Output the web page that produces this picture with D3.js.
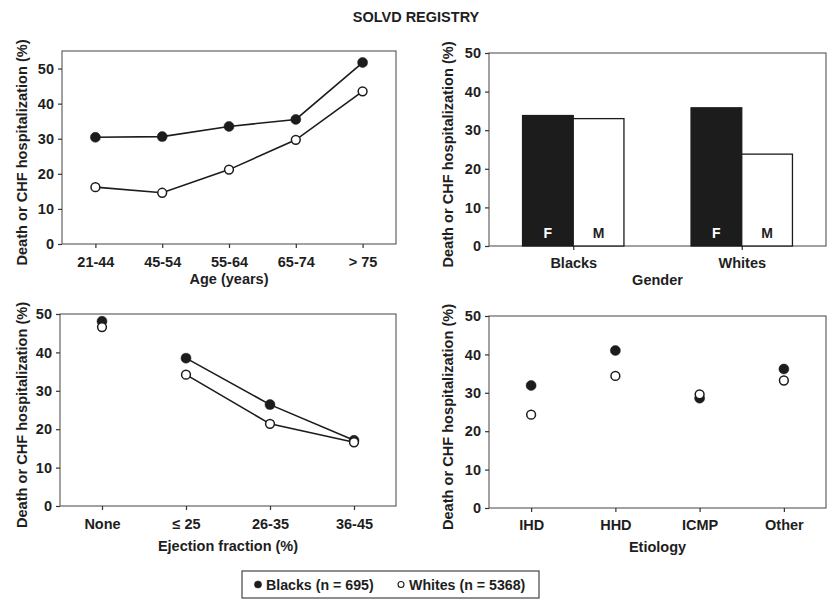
<!DOCTYPE html>
<html>
<head>
<meta charset="utf-8">
<script src="https://cdn.jsdelivr.net/npm/d3@7"></script>
<style>
  body { margin: 0; background: #fff; }
  svg text { font-family: "Liberation Sans", Arial, sans-serif; font-weight: bold; fill: #1e1e1e; }
  .axis path, .axis line { stroke: #333; stroke-width: 1.2; }
  .axis text { font-size: 14.5px; }
</style>
</head>
<body>
<div id="chart"></div>
<script>
// data
const yTicks = [0, 10, 20, 30, 40, 50];

const ageCats = ["21-44", "45-54", "55-64", "65-74", "> 75"];
const ageBlacks = [30.4, 30.6, 33.5, 35.5, 51.7];
const ageWhites = [16.2, 14.6, 21.2, 29.7, 43.5];

const genderGroups = ["Blacks", "Whites"];
const genderSex = ["F", "M"];
const genderF = [33.8, 35.8];
const genderM = [33.0, 23.8];

const efCats = ["None", "\u2264 25", "26-35", "36-45"];
const efBlacks = [48.1, 38.5, 26.4, 17.1];
const efWhites = [46.6, 34.2, 21.4, 16.6];

const etiCats = ["IHD", "HHD", "ICMP", "Other"];
const etiBlacks = [31.9, 41.0, 28.6, 36.2];
const etiWhites = [24.3, 34.4, 29.6, 33.2];

const yLabel = "Death or CHF hospitalization (%)";
const ink = "#1c1c1c";

const svg = d3.select("#chart").append("svg")
    .attr("width", 832)
    .attr("height", 600);

svg.append("text")
    .attr("x", 416)
    .attr("y", 22)
    .attr("text-anchor", "middle")
    .style("font-size", "14.5px")
    .text("SOLVD REGISTRY");

// one panel frame + axes, returns scales
function panel(box, cats, yMax, xTitle, tickOff, titleOff, yLabX) {
    const x = d3.scalePoint().domain(cats).range([box.left, box.right]).padding(0.5);
    const y = d3.scaleLinear().domain([0, yMax]).range([box.bottom, box.top]);

    svg.append("rect")
        .attr("x", box.left)
        .attr("y", box.top)
        .attr("width", box.right - box.left)
        .attr("height", box.bottom - box.top)
        .attr("fill", "none")
        .attr("stroke", "#444")
        .attr("stroke-width", 1);

    svg.append("g")
        .attr("class", "axis")
        .attr("transform", "translate(" + box.left + ",0)")
        .call(d3.axisLeft(y).tickValues(yTicks).tickSize(4).tickPadding(4).tickSizeOuter(0))
        .call(g => g.select(".domain").remove());

    const xa = svg.append("g")
        .attr("class", "axis")
        .attr("transform", "translate(0," + box.bottom + ")")
        .call(d3.axisBottom(x).tickSize(4).tickSizeOuter(0))
        .call(g => g.select(".domain").remove());
    xa.selectAll("text").attr("y", null).attr("dy", null)
        .attr("y", tickOff).attr("dominant-baseline", "central");

    svg.append("text")
        .attr("x", (box.left + box.right) / 2)
        .attr("y", box.bottom + titleOff)
        .attr("text-anchor", "middle")
        .attr("dominant-baseline", "central")
        .style("font-size", "14.5px")
        .text(xTitle);

    svg.append("text")
        .attr("transform", "translate(" + yLabX + "," + ((box.top + box.bottom) / 2 + 5) + ") rotate(-90)")
        .attr("text-anchor", "middle")
        .attr("dominant-baseline", "central")
        .style("font-size", "14.6px")
        .text(yLabel);

    return {x, y};
}

function series(s, cats, vals, filled, connectFrom) {
    const pts = cats.map((c, i) => ({c, v: vals[i]}));
    const line = d3.line().x(d => s.x(d.c)).y(d => s.y(d.v));
    if (connectFrom !== null) {
        svg.append("path")
            .datum(pts.slice(connectFrom))
            .attr("fill", "none")
            .attr("stroke", ink)
            .attr("stroke-width", 1.6)
            .attr("d", line);
    }
    svg.selectAll(null).data(pts).enter()
        .append("circle")
        .attr("cx", d => s.x(d.c))
        .attr("cy", d => s.y(d.v))
        .attr("r", filled ? 5 : 4.4)
        .attr("fill", filled ? ink : "#fff")
        .attr("stroke", ink)
        .attr("stroke-width", filled ? 0.5 : 1.5);
}

// top left: age
const pAge = panel({left: 62, top: 51, right: 396, bottom: 244}, ageCats, 55, "Age (years)", 18, 35, 22);
series(pAge, ageCats, ageBlacks, true, 0);
series(pAge, ageCats, ageWhites, false, 0);

// top right: gender bars
const pGen = panel({left: 489, top: 53, right: 826, bottom: 246}, genderGroups, 50, "Gender", 17, 34, 448);
const sub = d3.scaleBand().domain(genderSex).range([-50.7, 50.7]).padding(0);
const barData = [];
genderGroups.forEach((g, i) => {
    barData.push({g, s: "F", v: genderF[i]});
    barData.push({g, s: "M", v: genderM[i]});
});
svg.selectAll(".bar").data(barData).enter()
    .append("rect")
    .attr("class", "bar")
    .attr("x", d => pGen.x(d.g) + sub(d.s))
    .attr("width", sub.bandwidth())
    .attr("y", d => pGen.y(d.v))
    .attr("height", d => pGen.y(0) - pGen.y(d.v))
    .attr("fill", d => d.s === "F" ? ink : "#fff")
    .attr("stroke", ink)
    .attr("stroke-width", 1.3);
svg.selectAll(".barLabel").data(barData).enter()
    .append("text")
    .attr("class", "barLabel")
    .attr("x", d => pGen.x(d.g) + sub(d.s) + sub.bandwidth() / 2)
    .attr("y", pGen.y(0) - 13)
    .attr("text-anchor", "middle")
    .attr("dominant-baseline", "central")
    .style("font-size", "14px")
    .style("fill", d => d.s === "F" ? "#fff" : "#1e1e1e")
    .text(d => d.s);

// bottom left: ejection fraction ("None" not joined)
const pEf = panel({left: 60, top: 314, right: 396, bottom: 506}, efCats, 50, "Ejection fraction (%)", 18, 40, 22);
series(pEf, efCats, efBlacks, true, 1);
series(pEf, efCats, efWhites, false, 1);

// bottom right: etiology, points only
const pEti = panel({left: 489, top: 316, right: 826, bottom: 508}, etiCats, 50, "Etiology", 17, 39, 448);
series(pEti, etiCats, etiBlacks, true, null);
series(pEti, etiCats, etiWhites, false, null);

// legend
const lg = svg.append("g");
lg.append("rect")
    .attr("x", 242).attr("y", 571)
    .attr("width", 297).attr("height", 27)
    .attr("fill", "#fff")
    .attr("stroke", "#444")
    .attr("stroke-width", 1.2);
const legendItems = [
    {label: "Blacks (n = 695)", filled: true, x: 258},
    {label: "Whites (n = 5368)", filled: false, x: 401}
];
legendItems.forEach(d => {
    lg.append("circle")
        .attr("cx", d.x).attr("cy", 584.5)
        .attr("r", d.filled ? 3.6 : 3)
        .attr("fill", d.filled ? ink : "#fff")
        .attr("stroke", ink)
        .attr("stroke-width", d.filled ? 0.5 : 1.1);
    lg.append("text")
        .attr("x", d.x + 8).attr("y", 585)
        .attr("dominant-baseline", "central")
        .style("font-size", "14.2px")
        .text(d.label);
});
</script>
</body>
</html>
